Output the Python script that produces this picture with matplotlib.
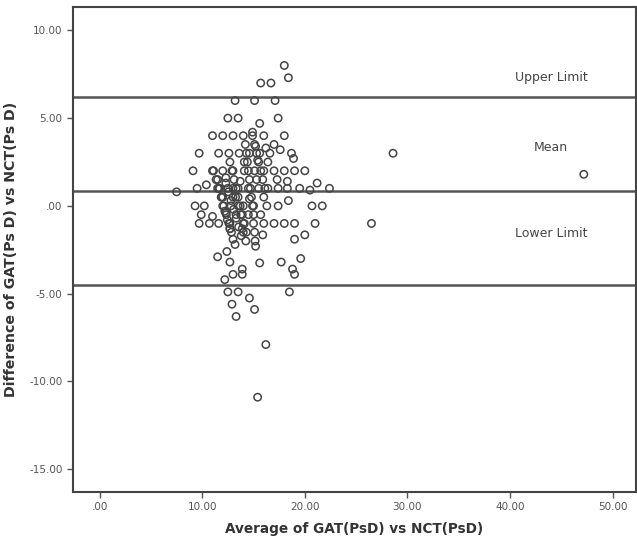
import matplotlib.pyplot as plt
import numpy as np

# Bland-Altman style plot: average vs difference (GAT vs NCT)
avg = [18.0, 18.4, 15.7, 16.7,
       13.2, 15.1, 17.1,
       12.5, 13.5, 17.4, 15.6, 14.9,
       11.0, 12.0, 13.0, 14.0, 16.0, 18.0,
       15.2, 16.2, 17.0,
       9.7, 11.6, 12.6, 13.6, 14.6, 15.6, 16.6, 17.6, 18.7, 18.9,
       14.1, 15.4, 16.4,
       9.1, 11.0, 12.0, 13.0, 14.1, 15.1, 16.0, 17.0, 18.0, 19.0, 20.0,
       11.5, 12.3, 13.7, 15.3, 17.3, 18.3,
       21.2, 22.4,
       7.5, 9.5, 10.4, 11.5, 12.5, 13.5, 14.5, 15.5, 16.4, 17.4, 18.3, 19.5, 20.5,
       12.0, 13.0, 14.6, 16.0, 18.4,
       9.3, 10.2, 12.0, 12.8, 14.0, 15.0, 16.3, 17.4, 20.7, 21.7,
       9.9, 11.0, 12.3, 13.3, 14.5, 15.7,
       9.7, 10.7, 11.6, 12.7, 14.0, 15.0, 16.0, 17.0, 18.0, 19.0, 21.0,
       26.5, 28.6, 47.2,
       # stacks
       11.1, 11.35, 11.6, 11.85, 12.1, 12.35, 12.6, 12.85,
       12.7, 12.9, 13.1, 13.3, 13.5, 13.7, 13.9, 14.1, 14.3,
       14.2, 14.3, 14.4, 14.5, 14.6, 14.7, 14.8, 14.9, 15.0, 15.1, 15.15,
       14.9, 15.1, 15.3, 15.5, 15.7, 15.9, 16.1,
       11.7, 11.95, 12.2, 12.45, 12.7,
       12.3, 12.55, 12.8, 13.05, 13.3, 13.55, 13.8,
       13.0, 13.25, 13.5, 13.75, 14.0, 14.25,
       # lower part
       12.7, 13.9, 15.2, 15.9, 19.0, 20.0, 13.0, 13.2, 12.4, 11.5, 12.7, 15.6,
       17.7, 19.6, 18.8, 19.0, 13.9, 13.9, 13.0, 12.2, 12.5, 13.5, 14.6, 18.5,
       12.9, 15.1, 13.3, 16.2, 15.4]
diff = [8.0, 7.3, 7.0, 7.0,
        6.0, 6.0, 6.0,
        5.0, 5.0, 5.0, 4.7, 4.2,
        4.0, 4.0, 4.0, 4.0, 4.0, 4.0,
        3.4, 3.3, 3.5,
        3.0, 3.0, 3.0, 3.0, 3.0, 3.0, 3.0, 3.2, 3.0, 2.7,
        2.5, 2.6, 2.5,
        2.0, 2.0, 2.0, 2.0, 2.0, 2.0, 2.0, 2.0, 2.0, 2.0, 2.0,
        1.5, 1.6, 1.4, 1.5, 1.5, 1.4,
        1.3, 1.0,
        0.8, 1.0, 1.2, 1.0, 1.0, 1.0, 1.0, 1.0, 1.0, 1.0, 1.0, 1.0, 0.9,
        0.5, 0.5, 0.4, 0.5, 0.3,
        0.0, 0.0, 0.0, 0.0, 0.0, 0.0, 0.0, 0.0, 0.0, 0.0,
        -0.5, -0.6, -0.4, -0.5, -0.5, -0.5,
        -1.0, -1.0, -1.0, -1.0, -1.0, -1.0, -1.0, -1.0, -1.0, -1.0, -1.0,
        -1.0, 3.0, 1.8,
        2.0, 1.5, 1.0, 0.5, 0.0, -0.5, -1.0, -1.5,
        2.5, 2.0, 1.5, 1.0, 0.5, 0.0, -0.5, -1.0, -1.5,
        3.5, 3.0, 2.5, 2.0, 1.5, 1.0, 0.5, 0.0, -0.5, -1.5, -2.0,
        4.0, 3.5, 3.0, 2.5, 2.0, 1.5, 1.0,
        1.0, 0.5, -0.3, -0.8, -1.3,
        1.3, 0.8, 0.3, -0.2, -0.7, -1.2, -1.7,
        1.0, 0.5, 0.0, -0.5, -1.5, -2.0,
        -1.3, -1.3, -2.3, -1.65, -1.9, -1.65, -1.9, -2.2, -2.6, -2.9, -3.2, -3.25,
        -3.2, -3.0, -3.6, -3.9, -3.6, -3.9, -3.9, -4.2, -4.9, -4.9, -5.25, -4.9,
        -5.6, -5.9, -6.3, -7.9, -10.9]

upper = 6.2
mean = 0.85
lower = -4.5

line_names = ["Upper Limit", "Mean", "Lower Limit"]
label_y = [7.3, 3.3, -1.55]

fig = plt.figure(figsize=(6.37, 5.44), dpi=100)
ax = fig.add_axes([0.1146, 0.0956, 0.884, 0.8915])

ax.scatter(avg, diff, s=28, facecolors='none', edgecolors='#444444', linewidths=1.1, zorder=3)

for v in [upper, mean, lower]:
    ax.axhline(v, color='#555555', lw=1.8, zorder=2)

for name, yy in zip(line_names, label_y):
    ax.text(44.0, yy, name, ha='center', va='center', fontsize=9, color='#444444')

ax.set_xlim(-2.6, 52.3)
ax.set_ylim(-16.3, 11.33)
ax.set_xticks([0, 10, 20, 30, 40, 50])
ax.set_xticklabels(['.00', '10.00', '20.00', '30.00', '40.00', '50.00'])
ax.set_yticks([10, 5, 0, -5, -10, -15])
ax.set_yticklabels(['10.00', '5.00', '.00', '-5.00', '-10.00', '-15.00'])
ax.tick_params(labelsize=7.5, colors='#555555', length=4, width=1)

for sp in ax.spines.values():
    sp.set_color('#444444')
    sp.set_linewidth(1.5)

ax.set_xlabel('Average of GAT(PsD) vs NCT(PsD)', fontsize=9.8, fontweight='bold', color='#333333', labelpad=7)
ax.set_ylabel('Difference of GAT(Ps D) vs NCT(Ps D)', fontsize=10.2, fontweight='bold', color='#333333', labelpad=8)

fig.savefig('out.png', dpi=100)
